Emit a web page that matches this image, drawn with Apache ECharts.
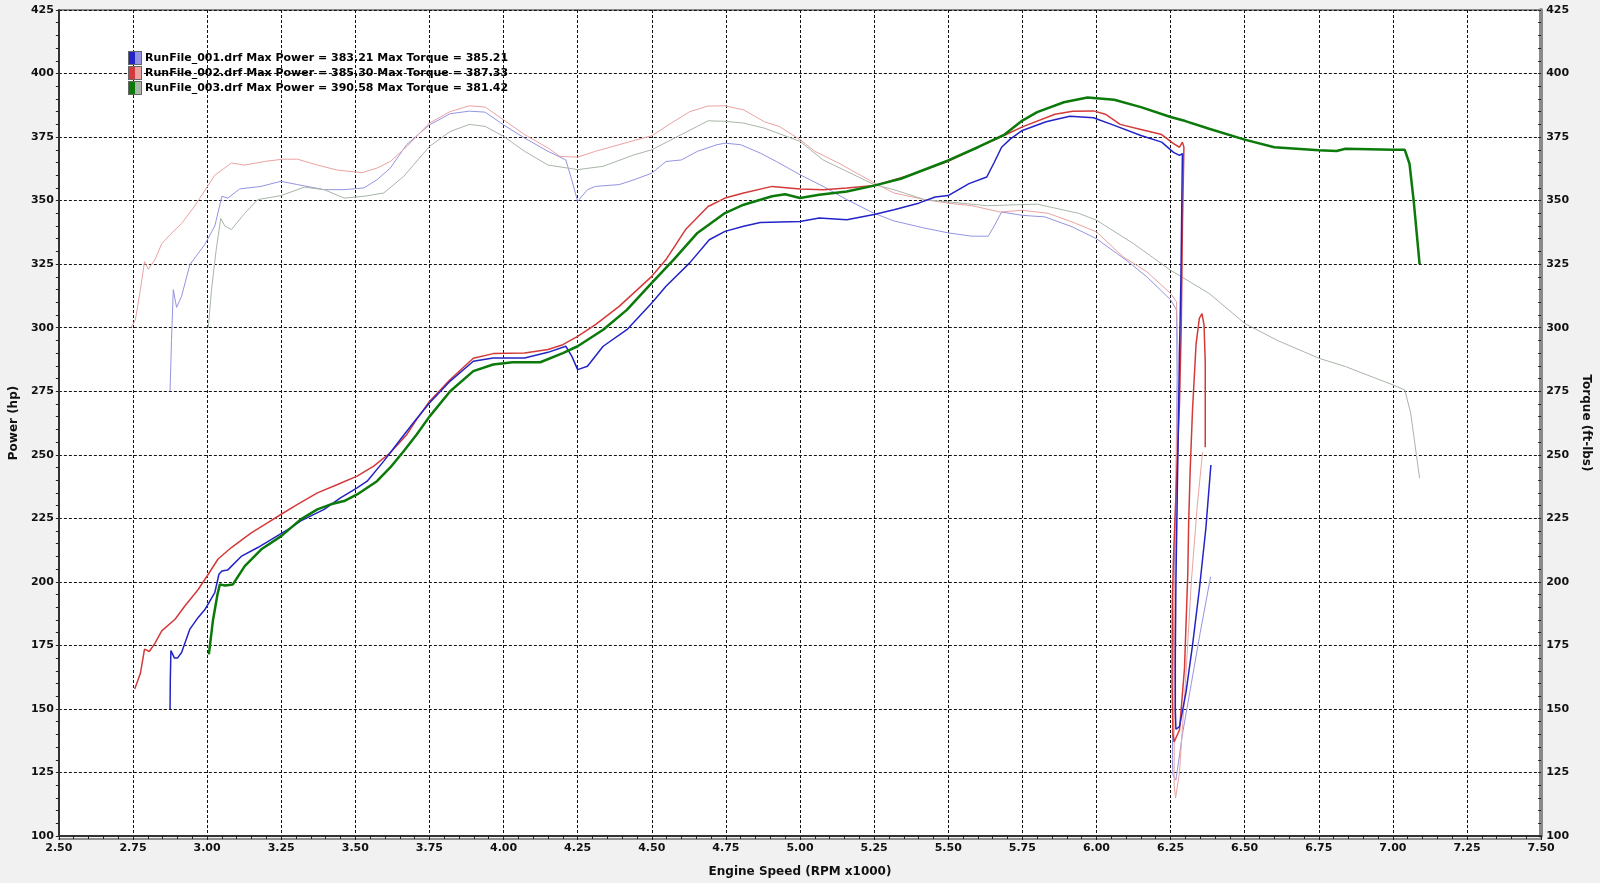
<!DOCTYPE html>
<html><head><meta charset="utf-8">
<script src="https://cdn.jsdelivr.net/npm/echarts@6/dist/echarts.min.js"></script>
<style>html,body{margin:0;padding:0;background:#f1f1f1}#c{width:1600px;height:883px}</style>
</head><body><div id="c"></div><script>
const FONT = 'DejaVu Sans';
const legendNames = [
  'RunFile_001.drf Max Power = 383.21 Max Torque = 385.21',
  'RunFile_002.drf Max Power = 385.30 Max Torque = 387.33',
  'RunFile_003.drf Max Power = 390.58 Max Torque = 381.42'
];
const rpmMin = 2.5, rpmMax = 7.5, rpmStep = 0.25;
const valMin = 100, valMax = 425, valStep = 25;

const run1Power = [[2.875,150],[2.876,162],[2.878,173],[2.89,170],[2.90,170],[2.914,172.2],[2.942,181.4],[2.97,186],[2.992,189],[3.026,195.8],[3.04,203],[3.05,204.3],[3.07,204.7],[3.115,210],[3.171,213.5],[3.227,217.4],[3.283,221.3],[3.316,224],[3.395,228.5],[3.45,233],[3.506,237],[3.54,239.6],[3.596,247.5],[3.652,256],[3.696,262.6],[3.75,270.4],[3.82,279],[3.898,286.8],[3.965,288.1],[4.071,288.1],[4.15,290.3],[4.21,292.7],[4.23,288.8],[4.25,283.5],[4.283,284.8],[4.336,292.7],[4.416,299.2],[4.50,309.7],[4.548,316.3],[4.628,325.5],[4.694,334.6],[4.747,337.9],[4.81,339.9],[4.866,341.4],[5.0,341.8],[5.065,343.2],[5.158,342.5],[5.25,344.5],[5.317,346.4],[5.40,349],[5.456,351.4],[5.50,352],[5.57,356.7],[5.63,359.3],[5.655,365],[5.68,371],[5.71,374.3],[5.75,377.6],[5.83,381],[5.91,383.2],[5.99,382.6],[6.06,379.6],[6.15,375.6],[6.22,373],[6.26,369],[6.28,367.8],[6.29,368.5],[6.288,350],[6.285,320],[6.28,290],[6.276,260],[6.272,230],[6.268,200],[6.266,170],[6.266,150],[6.268,142],[6.28,143],[6.302,156.5],[6.324,175],[6.347,197],[6.369,221],[6.386,246]];

const run2Power = [[2.756,157.8],[2.775,164],[2.789,173.5],[2.805,172.6],[2.825,176],[2.847,180.7],[2.892,185.3],[2.925,190.5],[2.97,197],[3.004,203],[3.037,209],[3.082,213.5],[3.149,219.3],[3.205,223.3],[3.25,226.6],[3.305,230.5],[3.372,235],[3.44,238.3],[3.506,241.6],[3.562,245.5],[3.618,250.8],[3.674,258],[3.707,263.9],[3.75,271],[3.82,279.6],[3.898,288],[3.965,289.8],[4.071,290],[4.15,291.4],[4.20,293.3],[4.25,296.6],[4.31,301.2],[4.39,308.4],[4.50,320.2],[4.548,326.8],[4.614,338.6],[4.69,347.7],[4.747,351],[4.81,353],[4.906,355.6],[5.0,354.6],[5.078,354.3],[5.158,355],[5.25,355.9],[5.37,360],[5.5,365.5],[5.6,371],[5.69,375.7],[5.75,379],[5.86,384],[5.92,385.2],[5.99,385.3],[6.03,384],[6.08,380],[6.15,378],[6.22,376],[6.26,372.4],[6.28,371],[6.29,373],[6.295,371],[6.29,340],[6.286,300],[6.28,270],[6.27,240],[6.26,210],[6.256,193],[6.255,160],[6.258,140],[6.262,137],[6.28,141.7],[6.297,166],[6.308,203],[6.311,223],[6.316,243.5],[6.324,267.6],[6.336,293.5],[6.347,303.7],[6.356,305.5],[6.363,301],[6.367,286],[6.367,253]];

const run3Power = [[3.006,171.5],[3.02,185],[3.035,195],[3.043,199],[3.06,198.6],[3.087,199],[3.127,206.2],[3.183,212.8],[3.25,218],[3.316,224.6],[3.372,228.5],[3.417,230.5],[3.462,231.8],[3.506,234.4],[3.573,239.6],[3.618,245],[3.663,251.4],[3.707,258],[3.75,265],[3.82,275],[3.898,282.9],[3.965,285.5],[4.03,286.4],[4.124,286.4],[4.20,290],[4.25,292.7],[4.336,299.2],[4.416,307],[4.50,317.6],[4.574,326.8],[4.654,337.3],[4.747,345.1],[4.81,348.4],[4.906,351.7],[4.95,352.5],[5.0,351],[5.065,352.3],[5.158,353.6],[5.25,355.9],[5.34,358.6],[5.5,365.8],[5.60,371],[5.69,376],[5.75,381.5],[5.80,384.8],[5.89,388.7],[5.97,390.6],[6.06,389.7],[6.15,386.8],[6.25,382.9],[6.30,381.3],[6.38,378.3],[6.50,374],[6.60,371],[6.75,369.8],[6.81,369.5],[6.84,370.4],[6.92,370.2],[7.00,370],[7.04,370],[7.056,364.5],[7.07,350],[7.09,325]];

const run1Torque = [[2.875,275],[2.88,295],[2.886,315],[2.897,308],[2.914,312.4],[2.942,324.8],[2.992,332.7],[3.026,340],[3.05,351.7],[3.07,351],[3.11,354.6],[3.182,355.6],[3.249,357.6],[3.305,356.3],[3.395,354.3],[3.462,354.3],[3.529,355],[3.573,358.2],[3.618,362.8],[3.673,372],[3.75,379.8],[3.82,384.2],[3.885,385.2],[3.938,384.8],[4.0,379.8],[4.071,374.6],[4.15,369.4],[4.21,366],[4.23,358.2],[4.25,349.7],[4.283,354.3],[4.31,355.6],[4.39,356.3],[4.44,358.2],[4.50,360.8],[4.548,365.4],[4.6,366],[4.654,369.4],[4.72,372],[4.747,372.6],[4.80,372],[4.866,368.7],[4.92,365.4],[5.0,360.2],[5.078,355.6],[5.158,350.4],[5.25,345],[5.317,342],[5.42,339.2],[5.5,337.3],[5.58,336],[5.635,336],[5.655,340],[5.68,345.5],[5.75,344.2],[5.826,343.6],[5.918,339.7],[6.0,335],[6.1,326.6],[6.17,320],[6.25,311],[6.27,307],[6.272,280],[6.268,240],[6.262,200],[6.258,160],[6.256,130],[6.258,124],[6.268,122],[6.29,140],[6.32,160],[6.35,180],[6.385,202]];

const run2Torque = [[2.743,300],[2.758,303],[2.775,315],[2.789,326],[2.802,323],[2.825,327],[2.847,333],[2.875,336.6],[2.914,341],[2.959,348],[2.998,355],[3.026,360],[3.082,364.8],[3.127,364],[3.194,365.4],[3.255,366.3],[3.305,366.3],[3.372,364],[3.44,362],[3.523,361],[3.573,362.8],[3.618,365.4],[3.674,371.3],[3.75,380.5],[3.819,385],[3.885,387.3],[3.938,386.8],[4.0,381.8],[4.071,376],[4.15,370.7],[4.19,367.4],[4.25,367.1],[4.31,369.4],[4.39,372],[4.47,374.6],[4.50,375.5],[4.548,379.2],[4.628,385],[4.69,387.2],[4.747,387.3],[4.81,385.7],[4.88,381],[4.93,379.2],[5.0,374],[5.05,369.4],[5.13,364.8],[5.25,357],[5.317,353],[5.42,350.4],[5.5,349],[5.58,348],[5.675,345.5],[5.75,346.2],[5.837,345],[5.918,341.6],[6.0,337.7],[6.09,327.9],[6.17,322],[6.25,313.5],[6.27,310.2],[6.275,290],[6.27,250],[6.265,200],[6.262,150],[6.262,120],[6.267,115],[6.28,125],[6.30,160],[6.32,200],[6.34,230],[6.358,251]];

const run3Torque = [[3.004,300],[3.015,315],[3.03,330],[3.046,343],[3.06,340],[3.082,338.6],[3.127,345],[3.171,350.4],[3.25,352],[3.328,355.3],[3.395,354.3],[3.462,351],[3.529,351.7],[3.596,353],[3.663,359.5],[3.75,371.3],[3.82,377.2],[3.885,380],[3.938,379.2],[4.0,375.3],[4.071,369.4],[4.15,364],[4.25,362.2],[4.336,363.5],[4.44,368],[4.50,370],[4.6,376],[4.69,381.4],[4.747,381.2],[4.81,380.5],[4.88,378.5],[5.0,373.3],[5.078,366],[5.158,361.5],[5.25,356.3],[5.317,354.3],[5.42,350.4],[5.5,349.5],[5.63,348],[5.80,348.6],[5.94,345],[6.0,342.3],[6.126,333],[6.25,322.6],[6.38,313.5],[6.50,301.7],[6.61,295],[6.75,288],[6.84,284.7],[7.0,277.5],[7.04,275.5],[7.06,266.4],[7.09,240.8]];

const darkColors = ['#2323c8', '#d43a3a', '#0b7a0b'];
const lightColors = ['#9494e2', '#eba2a2', '#a9b6a9'];

function iconFor(dark, light) {
  const svg = '<svg xmlns="http://www.w3.org/2000/svg" width="14" height="14">' +
    '<rect x="0.5" y="0.5" width="13" height="13" fill="' + light + '" stroke="#666"/>' +
    '<rect x="1" y="1" width="6" height="12" fill="' + dark + '"/></svg>';
  return 'image://data:image/svg+xml;charset=utf-8,' + encodeURIComponent(svg);
}

function line(name, data, color, width, yIdx, z) {
  return { type: 'line', name: name, data: data, yAxisIndex: yIdx, showSymbol: false, symbol: 'none',
    lineStyle: { color: color, width: width }, itemStyle: { color: color }, z: z, silent: true, animation: false };
}

const tickLabel = { fontFamily: FONT, fontWeight: 'bold', fontSize: 11, color: '#111' };
const nameStyle = { fontFamily: FONT, fontWeight: 'bold', fontSize: 12, color: '#111' };
const dashLine = { show: true, lineStyle: { color: '#111', type: [3, 2], width: 1 } };

const chart = echarts.init(document.getElementById('c'));
chart.setOption({
  backgroundColor: '#f1f1f1',
  animation: false,
  grid: { left: 53, right: 55, top: 10, bottom: 46, show: true, backgroundColor: '#ffffff', borderColor: '#222', borderWidth: 1 },
  legend: {
    orient: 'vertical', left: 128, top: 51, padding: 0, itemWidth: 14, itemHeight: 14, itemGap: 1, selectedMode: false,
    textStyle: { fontFamily: FONT, fontWeight: 'bold', fontSize: 11, color: '#000', padding: [0, 0, 0, -2] },
    data: legendNames.map((n, i) => ({ name: n, icon: iconFor(darkColors[i], lightColors[i]) }))
  },
  xAxis: {
    type: 'value', min: rpmMin, max: rpmMax, interval: rpmStep,
    name: 'Engine Speed (RPM x1000)', nameLocation: 'middle', nameGap: 30, nameTextStyle: nameStyle,
    axisLine: { show: true, lineStyle: { color: '#333', width: 2, shadowColor: 'rgba(0,0,0,0.4)', shadowOffsetY: 3, shadowBlur: 0 } },
    axisTick: { show: true, length: 4, lineStyle: { color: '#222' } },
    minorTick: { show: true, splitNumber: 5, length: 3, lineStyle: { color: '#222' } },
    axisLabel: Object.assign({ margin: 7, formatter: v => v.toFixed(2) }, tickLabel),
    splitLine: dashLine
  },
  yAxis: [{
    type: 'value', position: 'left', min: valMin, max: valMax, interval: valStep,
    name: 'Power (hp)', nameLocation: 'middle', nameGap: 36, nameRotate: 90, nameTextStyle: nameStyle,
    axisLine: { show: true, lineStyle: { color: '#333', width: 2 } },
    axisTick: { show: true, length: 3, lineStyle: { color: '#222' } },
    minorTick: { show: true, splitNumber: 5, length: 3, lineStyle: { color: '#222' } },
    axisLabel: Object.assign({ margin: 5 }, tickLabel),
    splitLine: dashLine
  }, {
    type: 'value', position: 'right', min: valMin, max: valMax, interval: valStep,
    name: 'Torque (ft-lbs)', nameLocation: 'middle', nameGap: 36, nameRotate: -90, nameTextStyle: nameStyle,
    axisLine: { show: true, lineStyle: { color: '#8a8a8a', width: 4 } },
    axisTick: { show: true, inside: true, length: 3, lineStyle: { color: '#222' } },
    minorTick: { show: true, splitNumber: 5, length: 3, lineStyle: { color: '#222' } },
    axisLabel: Object.assign({ margin: 5 }, tickLabel),
    splitLine: { show: false }
  }],
  series: [
    line('torque1', run1Torque, lightColors[0], 1, 1, 2),
    line('torque2', run2Torque, lightColors[1], 1, 1, 2),
    line('torque3', run3Torque, lightColors[2], 1, 1, 2),
    line(legendNames[1], run2Power, darkColors[1], 1.5, 0, 3),
    line(legendNames[0], run1Power, darkColors[0], 1.5, 0, 4),
    line(legendNames[2], run3Power, darkColors[2], 2.5, 0, 5)
  ]
});
</script></body></html>
